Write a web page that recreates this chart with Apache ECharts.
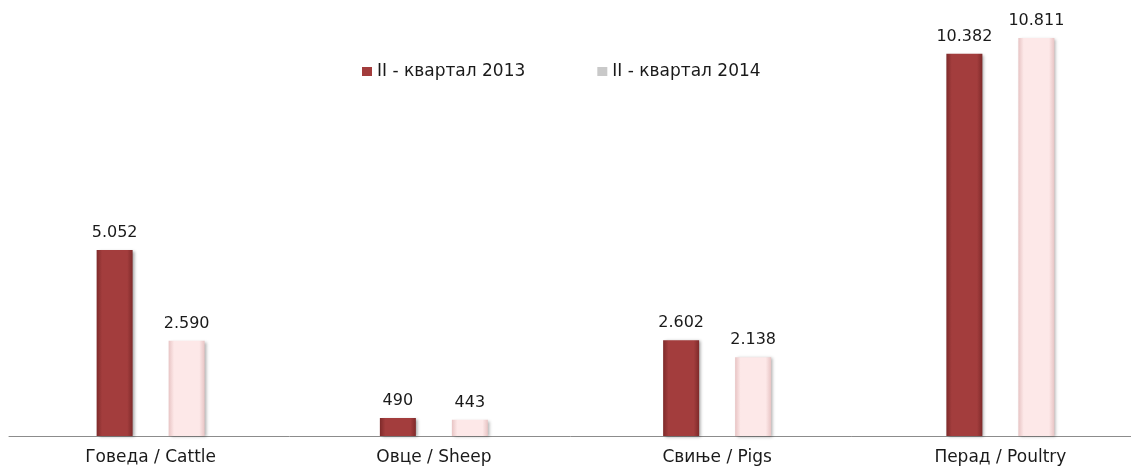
<!DOCTYPE html>
<html>
<head>
<meta charset="utf-8">
<script src="https://cdn.jsdelivr.net/npm/echarts@6/dist/echarts.min.js"></script>
<style>
    html, body { margin: 0; padding: 0; background: #fff; }
    #main { width: 1131px; height: 467px; }
</style>
</head>
<body>
<div id="main"></div>
<script>
// categories and series
var categories = ['Говеда / Cattle', 'Овце / Sheep', 'Свиње / Pigs', 'Перад / Poultry'];
var seriesNames = ['II - квартал 2013', 'II - квартал 2014'];
var values2013 = [5052, 490, 2602, 10382];
var values2014 = [2590, 443, 2138, 10811];

// 5052 -> "5.052"
function fmt(v) {
    return String(v).replace(/\B(?=(\d{3})+(?!\d))/g, '.');
}

function barGrad(edge, mid) {
    return new echarts.graphic.LinearGradient(0, 0, 1, 0, [
        {offset: 0, color: edge},
        {offset: 0.15, color: mid},
        {offset: 0.85, color: mid},
        {offset: 1, color: edge}
    ]);
}

var chart = echarts.init(document.getElementById('main'));

var FONT = 'DejaVu Sans';

var labelStyle = {
    show: true,
    position: 'top',
    distance: 9,
    color: '#1a1a1a',
    fontSize: 16,
    fontFamily: FONT,
    formatter: function (p) { return fmt(p.value); }
};

var option = {
    animation: false,
    textStyle: {fontFamily: FONT},
    legend: {
        left: 357,
        top: 58,
        itemWidth: 10,
        itemHeight: 9,
        itemGap: 72,
        textStyle: {fontSize: 17, color: '#1a1a1a', fontFamily: FONT},
        data: [
            {name: seriesNames[0], icon: 'rect', itemStyle: {color: '#a23c3c'}},
            {name: seriesNames[1], icon: 'rect', itemStyle: {color: '#c9c9c9'}}
        ]
    },
    grid: {
        left: 9, width: 1133, top: 31, bottom: 31,
        containLabel: false,
        outerBoundsMode: 'none'
    },
    xAxis: {
        type: 'category',
        data: categories,
        axisTick: {show: false},
        axisLine: {lineStyle: {color: '#8c8c8c', width: 1}},
        axisLabel: {fontSize: 17, color: '#1a1a1a', margin: 13, fontFamily: FONT}
    },
    yAxis: {
        type: 'value',
        min: 0,
        max: 11000,
        show: false,
        splitLine: {show: false}
    },
    series: [
        {
            name: seriesNames[0],
            type: 'bar',
            barWidth: 36,
            barGap: '100%',
            data: values2013,
            itemStyle: {
                color: barGrad('#7e2a2a', '#a33d3d'),
                shadowColor: 'rgba(0,0,0,0.35)',
                shadowBlur: 3,
                shadowOffsetX: 2,
                shadowOffsetY: 1
            },
            label: labelStyle
        },
        {
            name: seriesNames[1],
            type: 'bar',
            barWidth: 36,
            data: values2014,
            itemStyle: {
                color: barGrad('#e8c4c4', '#fde8e8'),
                shadowColor: 'rgba(0,0,0,0.3)',
                shadowBlur: 3,
                shadowOffsetX: 2,
                shadowOffsetY: 1
            },
            label: labelStyle
        }
    ]
};

chart.setOption(option);
</script>
</body>
</html>
